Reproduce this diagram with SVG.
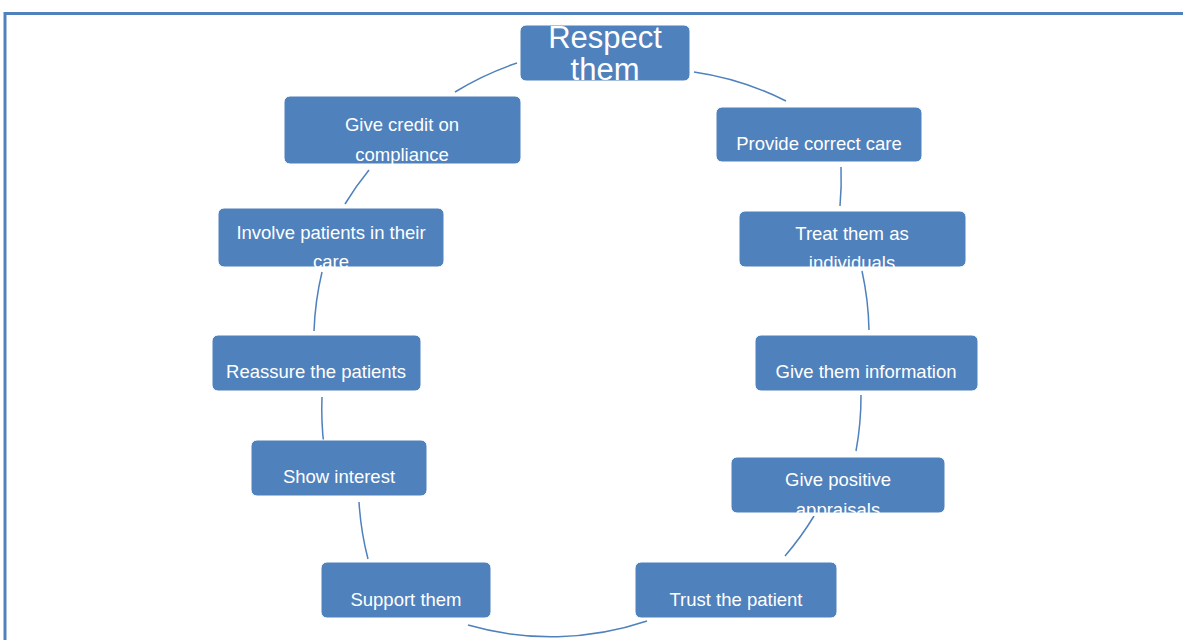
<svg xmlns="http://www.w3.org/2000/svg" width="1183" height="640" viewBox="0 0 1183 640">
<style>
.box{fill:#4f81bd;stroke:#ffffff;stroke-width:1}
.t{fill:#ffffff;font-family:"Liberation Sans",Arial,sans-serif;font-size:18.5px;text-anchor:middle}
.big{font-size:31px}
.c{fill:none;stroke:#4f81bd;stroke-width:1.5}
</style>
<rect width="1183" height="640" fill="#ffffff"/>
<path d="M5 640 V13.5 H1183" fill="none" stroke="#4f81bd" stroke-width="3"/>
<g id="connectors">
<path class="c" d="M694 72 A300 300 0 0 1 786 101"/>
<path class="c" d="M841 167 A300 300 0 0 1 840 206"/>
<path class="c" d="M862 271 A300 300 0 0 1 869 330"/>
<path class="c" d="M861 395 A300 300 0 0 1 856 451"/>
<path class="c" d="M814 516 A300 300 0 0 1 785 556"/>
<path class="c" d="M647 621 A300 300 0 0 1 468 625"/>
<path class="c" d="M368 559 A300 300 0 0 1 359 502"/>
<path class="c" d="M324 446 A300 300 0 0 1 322 397"/>
<path class="c" d="M314 331 A300 300 0 0 1 322 272"/>
<path class="c" d="M345 204 A300 300 0 0 1 369 170"/>
<path class="c" d="M455 92 A300 300 0 0 1 517 63"/>
</g>
<g id="respect"><rect class="box" x="520" y="25" width="170" height="56" rx="6"/><text class="t big" x="605" y="48">Respect</text><text class="t big" x="605" y="80">them</text></g>
<g id="provide"><rect class="box" x="716" y="107" width="206" height="55" rx="6"/><text class="t" x="819" y="150">Provide correct care</text></g>
<g id="treat"><rect class="box" x="739" y="211" width="227" height="56" rx="6"/><text class="t" x="852" y="240">Treat them as</text><text class="t" x="852" y="269">individuals</text></g>
<g id="info"><rect class="box" x="755" y="335" width="223" height="56" rx="6"/><text class="t" x="866" y="378">Give them information</text></g>
<g id="appraisals"><rect class="box" x="731" y="457" width="214" height="56" rx="6"/><text class="t" x="838" y="486">Give positive</text><text class="t" x="838" y="516">appraisals</text></g>
<g id="trust"><rect class="box" x="635" y="562" width="202" height="56" rx="6"/><text class="t" x="736" y="606">Trust the patient</text></g>
<g id="support"><rect class="box" x="321" y="562" width="170" height="56" rx="6"/><text class="t" x="406" y="606">Support them</text></g>
<g id="interest"><rect class="box" x="251" y="440" width="176" height="56" rx="6"/><text class="t" x="339" y="483">Show interest</text></g>
<g id="reassure"><rect class="box" x="212" y="335" width="209" height="56" rx="6"/><text class="t" x="316" y="378">Reassure the patients</text></g>
<g id="involve"><rect class="box" x="218" y="208" width="226" height="59" rx="6"/><text class="t" x="331" y="239">Involve patients in their</text><text class="t" x="331" y="268">care</text></g>
<g id="credit"><rect class="box" x="284" y="96" width="237" height="68" rx="6"/><text class="t" x="402" y="131">Give credit on</text><text class="t" x="402" y="161">compliance</text></g>
</svg>
